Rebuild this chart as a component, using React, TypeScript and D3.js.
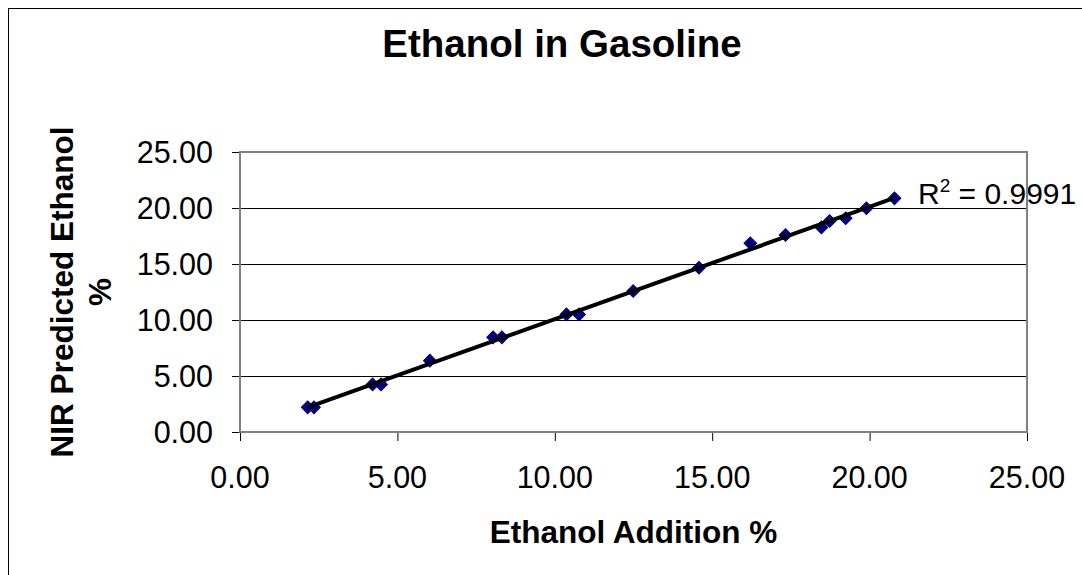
import { useEffect, useRef } from 'react';
import * as d3 from 'd3';

// Ethanol added (x) vs NIR predicted ethanol (y)
const addedPct = [2.15, 2.35, 4.21, 4.48, 6.03, 8.04, 8.32, 10.37, 10.77, 12.49, 14.58, 16.21, 17.33, 18.47, 18.73, 19.24, 19.9, 20.79];
const predictedPct = [2.2, 2.2, 4.25, 4.25, 6.37, 8.45, 8.45, 10.5, 10.5, 12.59, 14.67, 16.85, 17.59, 18.27, 18.84, 19.08, 19.97, 20.86];
const xTicks = [0, 5, 10, 15, 20, 25];
const yTicks = [0, 5, 10, 15, 20, 25];
const rSquaredLabel = '0.9991';

export default function App() {
  const svgRef = useRef<SVGSVGElement>(null);

  useEffect(() => {
    if (!svgRef.current) return;
    const svg = d3.select(svgRef.current);
    svg.selectAll('*').remove();

    const width = 1082;
    const height = 575;
    const font = 'Arial, "Liberation Sans", sans-serif';
    const plot = { left: 240, top: 152, right: 1027, bottom: 432 };

    svg.attr('width', width).attr('height', height).attr('viewBox', `0 0 ${width} ${height}`);

    // Chart frame (runs past the window on the right and bottom)
    svg.append('rect')
      .attr('x', 8.5).attr('y', 8.5)
      .attr('width', 1200).attr('height', 700)
      .attr('fill', '#fff')
      .attr('stroke', '#000')
      .attr('stroke-width', 1);

    const xScale = d3.scaleLinear().domain([0, 25]).range([plot.left, plot.right]);
    const yScale = d3.scaleLinear().domain([0, 25]).range([plot.bottom, plot.top]);

    // Title
    svg.append('text')
      .attr('x', 562).attr('y', 57)
      .attr('text-anchor', 'middle')
      .style('font-family', font)
      .style('font-size', '38.5px')
      .style('font-weight', 'bold')
      .text('Ethanol in Gasoline');

    // Grid lines
    svg.append('g')
      .selectAll('line')
      .data(yTicks.filter(t => t > 0 && t < 25))
      .enter()
      .append('line')
      .attr('x1', plot.left).attr('x2', plot.right)
      .attr('y1', d => yScale(d) + 0.5).attr('y2', d => yScale(d) + 0.5)
      .attr('stroke', '#000')
      .attr('stroke-width', 1);

    // Tick marks
    svg.append('g')
      .selectAll('line')
      .data(yTicks)
      .enter()
      .append('line')
      .attr('x1', plot.left - 8).attr('x2', plot.left)
      .attr('y1', d => yScale(d) + 0.5).attr('y2', d => yScale(d) + 0.5)
      .attr('stroke', '#000');

    svg.append('g')
      .selectAll('line')
      .data(xTicks)
      .enter()
      .append('line')
      .attr('x1', d => xScale(d) + 0.5).attr('x2', d => xScale(d) + 0.5)
      .attr('y1', plot.bottom).attr('y2', plot.bottom + 9)
      .attr('stroke', '#000');

    // Tick labels
    svg.append('g')
      .selectAll('text')
      .data(yTicks)
      .enter()
      .append('text')
      .attr('x', 213)
      .attr('y', d => yScale(d) + 10.5)
      .attr('text-anchor', 'end')
      .style('font-family', font)
      .style('font-size', '30.5px')
      .text(d => d3.format('.2f')(d));

    svg.append('g')
      .selectAll('text')
      .data(xTicks)
      .enter()
      .append('text')
      .attr('x', d => xScale(d))
      .attr('y', 488)
      .attr('text-anchor', 'middle')
      .style('font-family', font)
      .style('font-size', '30.5px')
      .text(d => d3.format('.2f')(d));

    // Axis titles
    svg.append('text')
      .attr('x', (plot.left + plot.right) / 2)
      .attr('y', 543)
      .attr('text-anchor', 'middle')
      .style('font-family', font)
      .style('font-size', '31.5px')
      .style('font-weight', 'bold')
      .text('Ethanol Addition %');

    const yTitle = svg.append('text')
      .attr('transform', `translate(73, ${(plot.top + plot.bottom) / 2}) rotate(-90)`)
      .attr('text-anchor', 'middle')
      .style('font-family', font)
      .style('font-size', '31.5px')
      .style('font-weight', 'bold');
    yTitle.append('tspan').attr('x', 0).attr('y', 0).text('NIR Predicted Ethanol');
    yTitle.append('tspan').attr('x', 0).attr('y', 38).text('%');

    // Linear trendline (least squares)
    const pts = addedPct.map((x, i) => ({ x, y: predictedPct[i] }));
    const mx = d3.mean(pts, d => d.x)!;
    const my = d3.mean(pts, d => d.y)!;
    const slope = d3.sum(pts, d => (d.x - mx) * (d.y - my)) / d3.sum(pts, d => (d.x - mx) ** 2);
    const intercept = my - slope * mx;
    const [x0, x1] = d3.extent(addedPct) as [number, number];

    // R² label
    const r2 = svg.append('text')
      .attr('x', 918).attr('y', 204)
      .style('font-family', font)
      .style('font-size', '30px');
    r2.append('tspan').text('R');
    r2.append('tspan').attr('dy', -12).style('font-size', '19px').text('2');
    r2.append('tspan').attr('dy', 12).text(` = ${rSquaredLabel}`);

    // Points
    const diamond = d3.symbol(d3.symbolSquare, 80)();
    svg.append('g')
      .selectAll('path')
      .data(pts)
      .enter()
      .append('path')
      .attr('d', diamond)
      .attr('transform', d => `translate(${xScale(d.x)},${yScale(d.y)}) rotate(45)`)
      .attr('fill', '#000080')
      .attr('stroke', '#000080')
      .attr('stroke-width', 1);

    svg.append('line')
      .attr('x1', xScale(x0)).attr('y1', yScale(slope * x0 + intercept))
      .attr('x2', xScale(x1)).attr('y2', yScale(slope * x1 + intercept))
      .attr('stroke', '#000')
      .attr('stroke-width', 4);

    // Plot area border
    svg.append('rect')
      .attr('x', plot.left).attr('y', plot.top)
      .attr('width', plot.right - plot.left).attr('height', plot.bottom - plot.top)
      .attr('fill', 'none')
      .attr('stroke', '#808080')
      .attr('stroke-width', 2);
  }, []);

  return (
    <svg ref={svgRef} style={{ position: 'absolute', left: 0, top: 0, display: 'block' }} />
  );
}
